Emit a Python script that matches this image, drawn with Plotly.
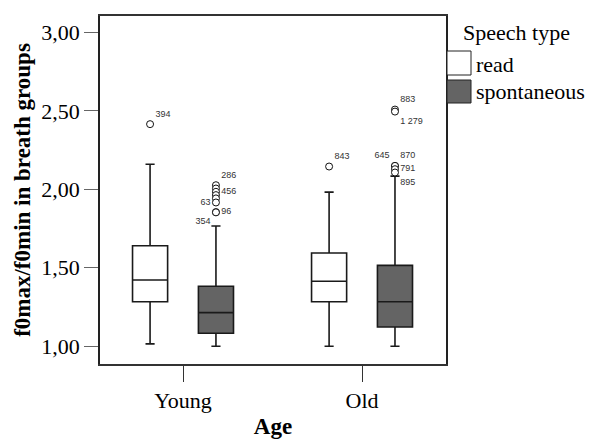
import plotly.graph_objects as go

# ---------------- data ----------------
categories = ["Young", "Old"]
speech_types = ["read", "spontaneous"]

read_q1 = [1.284, 1.284]
read_median = [1.422, 1.414]
read_q3 = [1.640, 1.594]
read_lower = [1.015, 1.000]
read_upper = [2.160, 1.982]

spont_q1 = [1.083, 1.123]
spont_median = [1.214, 1.284]
spont_q3 = [1.382, 1.515]
spont_lower = [1.000, 1.000]
spont_upper = [1.766, 2.084]

# outliers: (category index, value, case label)
read_out_cat = [0, 1]
read_out_val = [2.415, 2.145]
read_out_lab = ["394", "843"]

spont_out_cat = [0, 0, 0, 0, 0, 0, 0, 0, 1, 1, 1, 1, 1, 1]
spont_out_val = [2.026, 2.005, 1.984, 1.963, 1.942, 1.916, 1.855, 1.853,
                 2.508, 2.495, 2.149, 2.149, 2.128, 2.107]
spont_out_lab = ["286", "", "456", "", "", "63", "96", "354",
                 "883", "1 279", "645", "870", "791", "895"]

# ---------------- layout / style constants ----------------
OFF = 0.184
BOXW = 0.196
read_pos_text = ["top right", "top right"]
spont_pos_text = ["top right", "middle right", "middle right", "middle right",
                  "middle right", "middle left", "middle right", "bottom left",
                  "top right", "bottom right", "top left", "top right",
                  "middle right", "bottom right"]

SERIF = "Liberation Serif"
SANS = "Liberation Sans"
GRAY = "#646464"

fig = go.Figure()

xs = list(range(len(categories)))

fig.add_trace(go.Box(
    x=[i - OFF for i in xs], q1=read_q1, median=read_median, q3=read_q3,
    lowerfence=read_lower, upperfence=read_upper,
    width=BOXW, whiskerwidth=0.26, boxpoints=False,
    fillcolor="white", line=dict(color="#1a1a1a", width=1.6),
    name=speech_types[0], showlegend=False,
))
fig.add_trace(go.Box(
    x=[i + OFF for i in xs], q1=spont_q1, median=spont_median, q3=spont_q3,
    lowerfence=spont_lower, upperfence=spont_upper,
    width=BOXW, whiskerwidth=0.26, boxpoints=False,
    fillcolor=GRAY, line=dict(color="#1a1a1a", width=1.6),
    name=speech_types[1], showlegend=False,
))

marker = dict(symbol="circle", size=7, color="white",
              line=dict(color="#111", width=1))
fig.add_trace(go.Scatter(
    x=[c - OFF for c in read_out_cat], y=read_out_val, mode="markers+text",
    text=read_out_lab, textposition=read_pos_text,
    textfont=dict(family=SANS, size=9, color="#333"),
    marker=marker, showlegend=False, cliponaxis=False,
))
fig.add_trace(go.Scatter(
    x=[c + OFF for c in spont_out_cat], y=spont_out_val, mode="markers+text",
    text=spont_out_lab, textposition=spont_pos_text,
    textfont=dict(family=SANS, size=9, color="#333"),
    marker=marker, showlegend=False, cliponaxis=False,
))

# manual legend
def px2paper_x(px):
    return (px - 100) / 346.0

def px2paper_y(py):
    return (364 - py) / 348.0

shapes = []
for (y0, y1), col in zip([(51, 75), (80, 103)], ["white", GRAY]):
    shapes.append(dict(type="rect", xref="paper", yref="paper",
                       x0=px2paper_x(447), x1=px2paper_x(471),
                       y0=px2paper_y(y1), y1=px2paper_y(y0),
                       fillcolor=col, line=dict(color="#222", width=1)))

legend_font = dict(family=SERIF, size=22, color="black")
annotations = [
    dict(text="Speech type", x=px2paper_x(461), y=px2paper_y(33),
         xref="paper", yref="paper", xanchor="left", yanchor="middle",
         showarrow=False, font=legend_font),
    dict(text=speech_types[0], x=px2paper_x(474), y=px2paper_y(64),
         xref="paper", yref="paper", xanchor="left", yanchor="middle",
         showarrow=False, font=legend_font),
    dict(text=speech_types[1], x=px2paper_x(474), y=px2paper_y(92),
         xref="paper", yref="paper", xanchor="left", yanchor="middle",
         showarrow=False, font=legend_font),
]

fig.update_layout(
    width=593, height=439,
    margin=dict(l=100, r=147, t=16, b=75),
    paper_bgcolor="white", plot_bgcolor="white",
    separators=", ",
    shapes=shapes, annotations=annotations,
    showlegend=False,
    font=dict(family=SERIF, size=22, color="black"),
)
fig.update_xaxes(
    range=[-0.4637, 1.469], tickvals=xs, ticktext=categories,
    ticks="outside", ticklen=16, tickcolor="#333", tickwidth=1,
    showline=True, linecolor="#333", linewidth=1.5, mirror=True,
    showgrid=False, zeroline=False, automargin=False,
    tickfont=dict(family=SERIF, size=22, color="black"),
    title=dict(text="<b>Age</b>", font=dict(family=SERIF, size=23), standoff=8),
)
fig.update_yaxes(
    range=[0.887, 3.104], tickvals=[1, 1.5, 2, 2.5, 3], tickformat=".2f",
    ticks="outside", ticklen=14, tickcolor="#666", tickwidth=1,
    showline=True, linecolor="#222", linewidth=1.5, mirror=True,
    showgrid=False, zeroline=False, automargin=False,
    tickfont=dict(family=SERIF, size=22, color="black"),
    title=dict(text="<b>f0max/f0min in breath groups</b>",
               font=dict(family=SERIF, size=23), standoff=4),
)

fig.write_html("out.html")
